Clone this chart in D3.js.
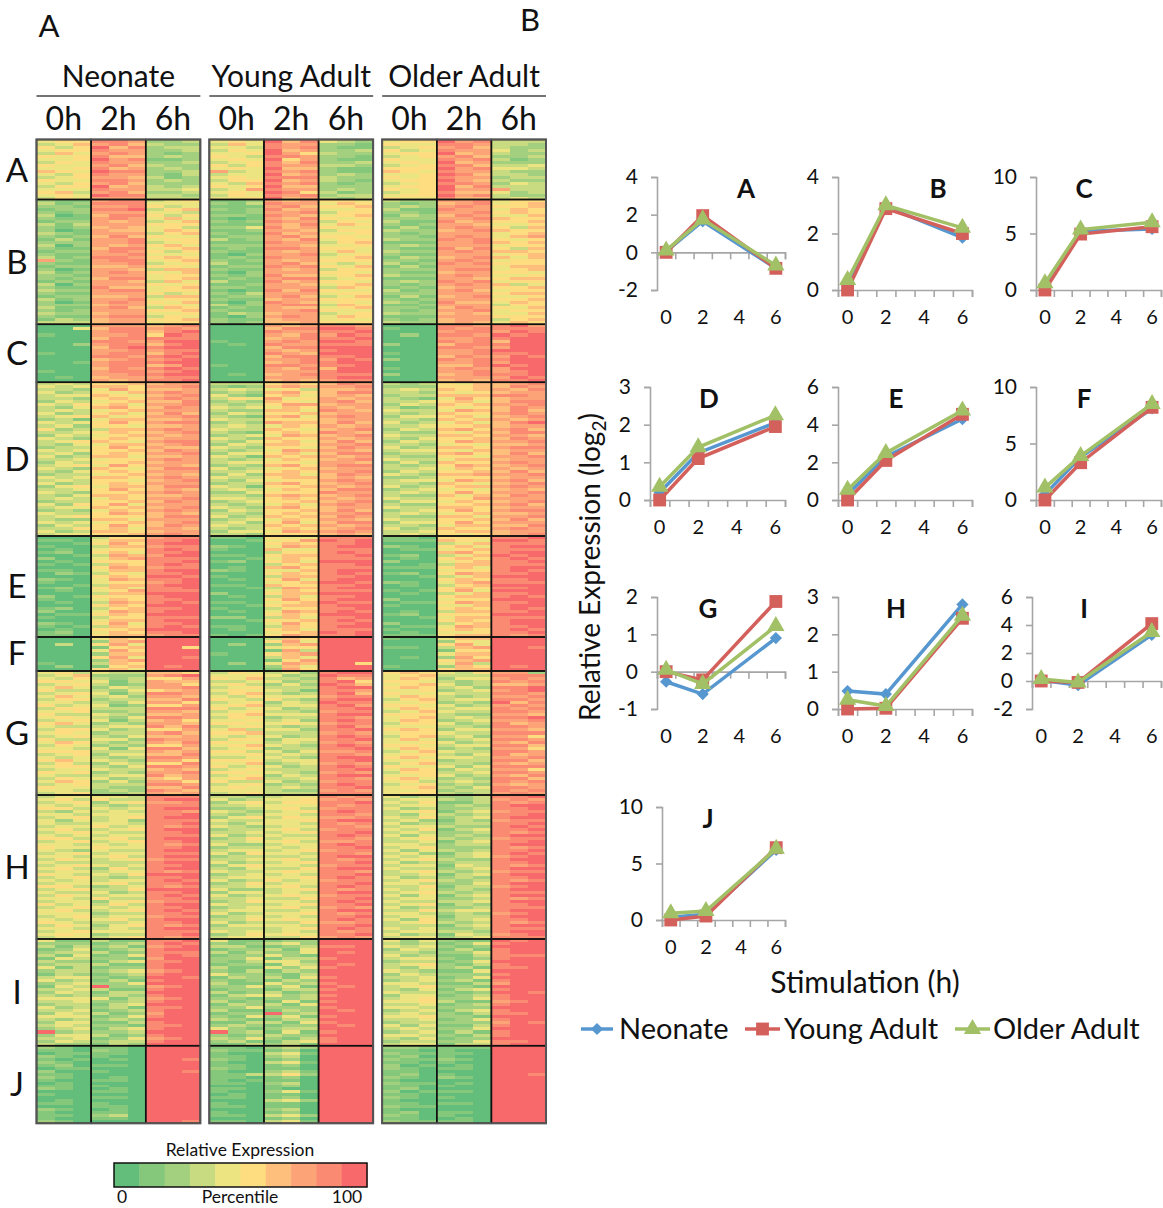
<!DOCTYPE html>
<html>
  <head>
    <meta charset="utf-8">
    <title>Relative expression by age group</title>
    <script src="https://cdn.jsdelivr.net/npm/d3@7"></script>
    <style>
      body { margin: 0; background: #fff; }
      text { font-family: Lato, "Open Sans", sans-serif; fill: #111; }
      .tick text { font-family: Lato, "Open Sans", sans-serif; fill: #111; }
    </style>
  </head>

  <body>
    <svg id="chart" width="1163" height="1208"></svg>

    <script>
      // heatmap labels
      const groups = ["Neonate", "Young Adult", "Older Adult"];
      const hours = ["0h", "2h", "6h"];
      const replicates = [0, 1, 2];
      const clusters = ["A", "B", "C", "D", "E", "F", "G", "H", "I", "J"];

      // heatmap rows, read by eye: one digit per cell (percentile bin 0-9),
      // three replicates x 0h/2h/6h x neonate/young/older
      const rowsA = [
        "455 887 223 454 968 432 455 978 333",
        "346 786 322 364 877 221 544 887 332",
        "535 968 233 443 878 211 345 786 322",
        "455 877 223 354 967 223 534 877 423",
        "364 787 212 445 975 322 455 967 322",
        "545 866 232 543 887 221 345 786 223",
        "445 978 112 454 957 211 544 878 312",
        "354 877 223 345 868 223 454 967 222",
        "544 786 322 535 877 332 345 886 334",
        "445 867 232 454 966 211 555 978 443",
        "654 988 223 734 878 211 654 877 322",
        "435 877 213 344 967 232 445 986 332",
        "345 776 312 454 888 322 545 877 233",
        "544 887 232 355 967 321 455 976 322",
        "435 786 222 436 878 212 345 887 243",
        "355 967 323 545 966 222 455 968 333",
        "444 877 334 347 877 232 545 977 733",
        "563 786 223 454 985 312 345 866 423",
        "454 988 332 354 878 233 455 978 322",
        "354 777 333 445 967 323 544 866 343"
      ];
      const rowsB = [
        "211 788 345 112 767 554 322 778 455",
        "312 888 444 213 877 465 212 678 456",
        "221 778 534 111 786 556 232 787 556",
        "122 889 356 212 867 445 311 877 465",
        "212 777 443 112 778 355 221 778 565",
        "301 688 535 221 876 456 132 687 446",
        "211 787 464 101 768 545 222 778 655",
        "122 767 346 212 877 354 311 867 556",
        "313 777 555 111 768 465 212 776 445",
        "212 676 453 224 867 544 131 787 536",
        "201 766 465 112 776 355 322 678 655",
        "321 777 356 211 867 445 212 777 456",
        "212 686 544 122 786 554 221 787 467",
        "131 778 455 312 768 455 322 878 545",
        "222 778 345 111 877 356 111 778 656",
        "302 767 564 222 776 445 232 777 455",
        "211 688 456 121 887 554 211 868 536",
        "122 787 535 211 767 464 322 787 665",
        "211 778 444 102 778 345 211 777 456",
        "312 887 565 121 877 456 132 678 646",
        "721 788 456 212 767 555 221 787 455",
        "211 778 345 311 786 434 312 878 555",
        "122 667 554 122 878 546 131 777 466",
        "201 776 366 211 767 355 222 788 456",
        "312 787 546 102 777 554 211 677 554",
        "221 777 455 212 866 456 322 787 445",
        "212 688 456 121 788 345 111 776 566",
        "121 776 364 311 867 554 232 878 455",
        "302 777 545 112 776 456 212 787 634",
        "211 866 456 221 777 365 121 677 556",
        "322 788 455 101 868 544 312 786 455",
        "211 777 534 213 777 455 222 777 566",
        "122 667 366 122 786 346 131 678 445",
        "312 778 455 211 677 555 212 777 556",
        "201 787 546 102 876 454 321 866 465",
        "222 677 454 312 788 365 112 777 355",
        "311 786 365 121 766 456 221 687 546",
        "212 777 556 211 778 544 212 778 455",
        "322 677 445 132 677 345 322 676 446",
        "211 788 354 102 787 465 111 777 555",
        "132 677 556 211 677 454 212 677 356",
        "333 677 455 212 667 545 322 676 465"
      ];
      const rowsC = [
        "000 777 678 000 767 887 000 887 897",
        "004 688 787 000 688 998 100 878 888",
        "000 788 689 000 877 889 000 788 798",
        "100 778 598 000 768 798 020 887 989",
        "000 688 888 000 678 889 000 778 899",
        "000 887 799 100 787 998 000 878 699",
        "002 788 689 010 877 888 200 688 899",
        "000 689 899 000 688 999 000 887 799",
        "000 778 788 000 767 899 000 778 999",
        "100 788 689 000 876 999 100 778 889",
        "000 887 898 000 688 889 000 687 798",
        "000 678 789 000 778 798 200 878 899",
        "001 788 899 000 678 899 000 778 799",
        "000 788 679 100 887 889 000 668 989",
        "000 687 898 000 768 699 100 787 799",
        "100 788 789 000 777 899 000 778 789",
        "000 778 899 010 678 888 200 678 889",
        "010 677 788 000 777 899 000 777 798",
        "000 767 889 000 676 788 000 676 889"
      ];
      const rowsD = [
        "343 556 677 333 565 687 323 546 678",
        "434 665 778 212 676 778 222 556 687",
        "332 475 667 343 453 667 343 656 768",
        "423 546 787 232 675 688 332 545 677",
        "344 654 678 421 564 676 233 666 887",
        "332 565 787 354 745 767 321 475 677",
        "243 456 668 232 654 786 334 564 688",
        "435 564 778 323 577 677 243 656 778",
        "324 675 687 434 465 767 312 545 687",
        "343 456 777 322 664 876 433 476 686",
        "423 564 686 243 556 677 323 655 787",
        "345 645 778 321 674 787 244 564 678",
        "231 466 667 433 555 677 332 656 767",
        "434 575 788 232 766 686 423 464 689",
        "342 554 667 343 465 767 334 556 677",
        "523 366 787 433 654 678 243 675 786",
        "334 565 678 321 565 876 322 546 688",
        "243 456 767 234 476 678 433 665 776",
        "432 565 677 432 655 767 324 556 687",
        "345 654 788 324 564 686 243 576 778",
        "324 466 678 243 665 778 332 454 667",
        "233 575 766 432 554 687 423 665 788",
        "434 556 687 323 476 776 344 546 677",
        "342 565 778 244 564 688 233 675 686",
        "423 664 667 431 656 767 322 554 778",
        "334 455 787 323 465 678 433 466 677",
        "243 556 677 344 554 776 242 655 787",
        "345 475 776 232 675 788 323 576 678",
        "432 654 688 423 456 677 334 465 767",
        "324 565 777 334 565 778 243 556 686",
        "233 456 676 242 664 687 432 667 778",
        "434 665 787 433 566 676 223 555 677",
        "343 554 678 324 455 787 344 476 786",
        "423 565 777 233 675 678 332 654 678",
        "245 466 688 431 556 767 423 566 787",
        "334 575 676 343 465 688 234 454 676",
        "432 556 787 224 555 877 343 575 778",
        "324 665 667 332 676 678 322 646 687",
        "343 465 778 443 565 767 433 557 777",
        "233 556 687 234 556 678 244 465 678",
        "425 574 777 323 464 787 322 556 786",
        "344 656 678 432 675 677 433 665 677",
        "232 465 787 243 556 686 234 575 788",
        "433 576 676 332 565 778 343 456 667",
        "345 555 688 423 656 687 322 664 778",
        "322 664 777 234 465 776 433 556 686",
        "434 456 678 342 574 688 244 575 777",
        "243 575 687 433 656 767 332 466 668",
        "335 564 776 323 565 678 423 655 787",
        "423 665 677 244 476 787 334 566 677",
        "344 556 787 332 555 676 343 545 678"
      ];
      const rowsE = [
        "000 355 788 110 544 888 110 555 889",
        "110 466 889 001 457 989 111 654 998",
        "001 575 899 000 565 889 000 346 888",
        "100 366 788 210 476 899 210 564 899",
        "010 455 898 100 644 888 011 456 888",
        "120 564 889 000 355 898 000 675 899",
        "001 376 799 110 566 889 120 346 989",
        "200 467 888 001 465 888 010 565 898",
        "010 555 889 120 564 999 200 456 889",
        "101 365 898 000 356 889 001 366 888",
        "000 576 788 010 675 888 111 564 899",
        "110 466 899 210 446 899 000 455 898",
        "021 354 889 000 565 898 120 576 889",
        "000 565 998 100 366 889 001 346 999",
        "210 476 889 010 574 899 000 565 889",
        "100 455 789 000 456 998 210 467 888",
        "001 366 899 110 655 889 010 356 999",
        "120 564 889 001 376 899 000 565 889",
        "010 457 888 000 465 888 101 574 999",
        "000 366 999 200 566 999 010 346 889",
        "201 555 899 010 364 889 000 566 898",
        "100 465 889 000 575 899 200 455 999",
        "010 376 898 110 456 988 011 576 889",
        "000 565 999 001 566 899 100 446 899",
        "120 356 889 100 355 889 000 565 898",
        "200 476 899 010 476 898 010 366 889",
        "011 565 999 000 565 999 120 555 999",
        "100 355 888 220 364 889 001 466 888",
        "000 466 899 001 556 898 000 565 899",
        "210 574 889 000 475 889 200 356 899",
        "101 365 898 110 365 899 011 476 889",
        "010 556 999 010 564 888 100 565 898",
        "120 465 889 000 456 989 010 445 889",
        "110 566 788 101 576 889 111 566 878"
      ];
      const rowsF = [
        "000 465 999 000 365 999 100 466 999",
        "000 267 999 000 574 999 000 254 999",
        "030 574 999 020 267 999 000 574 999",
        "000 156 995 000 455 999 110 367 998",
        "000 475 999 000 173 999 000 155 999",
        "000 266 999 100 567 999 000 466 999",
        "000 574 998 000 364 999 010 275 999",
        "000 267 999 000 157 999 000 567 999",
        "100 365 999 020 476 995 000 473 999",
        "020 156 989 000 264 999 100 265 989",
        "000 564 999 000 175 999 000 566 999"
      ];
      const rowsG = [
        "453 433 665 354 342 899 565 435 772",
        "346 222 789 445 423 988 456 333 888",
        "435 323 557 546 332 867 465 244 787",
        "554 413 766 334 423 895 554 323 878",
        "345 312 775 453 242 986 456 423 667",
        "464 243 778 345 333 899 565 342 889",
        "533 324 567 454 431 887 445 234 789",
        "345 413 887 356 323 896 544 433 887",
        "464 342 776 435 444 788 465 323 778",
        "355 233 668 543 532 899 356 344 887",
        "443 324 775 345 243 988 445 232 968",
        "534 412 557 456 344 897 554 423 787",
        "355 333 888 534 423 889 465 344 878",
        "445 223 776 345 332 788 346 433 887",
        "533 432 667 456 444 899 555 322 776",
        "454 324 887 354 233 887 456 343 889",
        "345 413 675 445 342 898 465 234 778",
        "564 232 776 554 454 788 355 423 867",
        "433 344 868 345 323 897 444 332 887",
        "355 423 557 463 442 889 565 244 776",
        "454 233 786 556 333 787 455 433 888",
        "345 324 667 434 423 898 356 342 775",
        "533 442 877 355 244 889 464 234 887",
        "465 323 768 544 343 787 445 423 768",
        "354 232 557 456 432 898 554 344 886",
        "443 414 886 345 233 889 465 232 775",
        "555 333 767 553 424 778 346 433 887",
        "345 244 668 445 343 887 455 324 867",
        "434 323 887 334 432 899 564 443 778",
        "564 432 775 555 344 889 445 233 886",
        "353 243 558 446 234 787 356 332 767",
        "455 324 887 534 423 898 544 424 888",
        "344 433 676 345 333 889 465 243 775",
        "545 232 778 554 432 787 355 334 887",
        "433 344 867 345 243 899 445 423 768",
        "354 423 657 456 334 887 564 232 886",
        "465 242 775 533 423 788 453 343 878",
        "345 333 887 345 232 898 345 232 767",
        "544 322 668 454 343 889 456 324 887",
        "443 232 876 444 322 787 445 233 878",
        "345 223 767 345 333 888 455 323 787"
      ];
      const rowsH = [
        "344 443 888 332 344 878 423 223 889",
        "453 533 899 423 445 787 344 323 787",
        "345 245 778 245 355 889 435 113 878",
        "434 323 888 334 444 878 344 232 899",
        "553 434 899 223 453 788 423 223 889",
        "324 343 887 432 345 898 345 134 788",
        "443 444 889 323 443 887 324 323 889",
        "345 345 899 245 354 778 435 234 899",
        "424 342 888 433 445 899 342 132 788",
        "433 443 889 324 443 878 423 233 889",
        "344 534 878 432 344 887 344 322 898",
        "453 345 899 233 453 788 435 134 889",
        "345 433 889 334 345 889 343 223 878",
        "434 344 888 423 433 898 424 232 899",
        "553 453 899 235 344 887 345 323 788",
        "345 345 889 334 453 778 334 134 889",
        "443 434 878 422 344 898 443 233 899",
        "544 544 889 233 434 889 345 222 878",
        "432 433 899 344 345 788 424 323 889",
        "345 344 888 425 443 887 342 134 898",
        "443 453 899 233 334 899 434 234 789",
        "354 345 788 334 453 878 345 322 899",
        "433 333 899 423 345 889 423 233 889",
        "345 434 889 245 443 788 344 143 878",
        "453 253 899 324 335 899 433 234 899",
        "344 344 878 433 454 887 345 323 788",
        "543 435 999 234 343 889 334 134 899",
        "345 323 889 344 445 898 423 232 889",
        "434 344 898 423 534 788 345 323 878",
        "344 453 889 235 344 889 443 224 899",
        "553 234 878 334 453 898 335 133 789",
        "345 335 999 422 345 878 434 232 899",
        "433 423 889 244 343 899 345 323 888",
        "354 344 898 423 454 788 424 134 899",
        "443 533 889 334 335 889 344 223 878",
        "344 245 788 235 443 898 433 334 899",
        "534 353 899 433 345 889 345 132 889",
        "345 434 889 234 453 787 423 223 888",
        "453 345 898 344 334 899 335 344 899",
        "444 233 889 423 445 878 443 232 789",
        "345 344 788 234 343 889 344 133 899",
        "434 453 899 335 454 898 425 234 889",
        "543 334 889 423 335 778 345 323 878",
        "354 245 878 244 443 889 333 134 899",
        "443 343 899 333 345 898 434 223 888",
        "345 444 888 434 343 878 344 332 899",
        "454 233 889 235 454 889 423 143 789",
        "344 345 878 344 335 787 344 234 888"
      ];
      const rowsI = [
        "411 311 889 411 122 999 424 211 989",
        "222 123 898 212 342 999 323 124 899",
        "313 231 789 331 123 889 434 212 999",
        "124 123 899 122 314 999 243 131 899",
        "233 312 888 313 224 989 332 224 899",
        "314 124 898 122 421 999 423 113 888",
        "143 221 799 224 133 899 344 212 899",
        "322 134 889 213 442 999 233 124 999",
        "233 311 899 122 143 989 345 213 899",
        "413 122 899 311 424 899 324 231 889",
        "233 234 789 213 132 999 432 114 999",
        "132 123 899 422 213 999 243 222 899",
        "344 212 998 132 314 899 334 124 999",
        "423 131 899 212 132 999 234 231 899",
        "234 224 999 311 423 899 443 113 799",
        "143 922 789 224 241 989 345 221 999",
        "334 311 899 122 133 899 324 134 899",
        "243 133 999 312 312 999 433 212 998",
        "323 232 899 134 423 899 244 123 899",
        "444 413 789 221 223 999 345 224 899",
        "334 223 899 312 141 899 445 311 789",
        "233 134 999 132 314 999 334 123 899",
        "423 231 889 224 222 899 443 222 999",
        "334 123 899 311 132 989 234 134 899",
        "243 312 799 122 923 999 343 213 889",
        "444 124 899 214 241 899 445 221 999",
        "323 232 999 321 133 999 334 124 899",
        "244 113 899 113 314 899 233 222 798",
        "343 221 889 232 122 989 424 113 899",
        "234 134 899 421 233 999 343 224 999",
        "923 223 999 923 141 899 234 131 899",
        "244 312 899 212 322 999 443 213 899",
        "334 124 789 324 213 899 324 122 999",
        "243 233 899 231 134 899 233 224 889",
        "322 132 999 113 231 999 344 133 899"
      ];
      const rowsJ = [
        "210 110 999 110 232 999 221 111 999",
        "110 210 999 211 120 999 110 100 999",
        "011 110 999 100 341 999 211 110 999",
        "210 100 999 110 230 999 120 100 999",
        "101 010 998 210 120 999 211 210 999",
        "210 000 999 100 341 999 110 100 999",
        "120 110 999 110 120 999 201 010 999",
        "011 000 999 210 110 999 210 110 999",
        "200 100 998 100 231 999 110 000 999",
        "110 000 999 113 352 999 120 100 998",
        "210 010 999 110 120 999 210 210 999",
        "100 110 999 101 110 999 100 000 999",
        "010 000 999 110 230 999 211 010 999",
        "110 100 999 000 120 999 110 100 999",
        "210 010 999 110 100 999 120 000 999",
        "000 110 999 100 241 999 201 110 999",
        "100 000 999 010 110 999 110 000 999",
        "000 110 999 110 120 999 210 100 999",
        "010 000 999 000 342 999 100 000 999",
        "110 100 999 100 110 999 110 110 999",
        "000 110 999 110 110 999 211 000 999",
        "210 010 999 000 230 999 100 000 999",
        "100 110 999 100 120 999 120 110 999",
        "110 230 999 110 342 999 210 100 999",
        "100 110 999 000 120 999 110 010 999",
        "210 000 998 110 341 999 211 110 999"
      ];
      const heatRows = [rowsA, rowsB, rowsC, rowsD, rowsE, rowsF, rowsG, rowsH, rowsI, rowsJ];

      // colour key
      const binColors = ["#63be7b", "#85c87c", "#a3d07e", "#c9db80", "#ece481", "#fedd80", "#fdbf7b", "#fca377", "#fa8a72", "#f8696b"];

      // line chart values: neonate, young adult, older adult at 0, 2, 6 h
      const series = ["Neonate", "Young Adult", "Older Adult"];
      const timePoints = [0, 2, 6];
      const linesA = [[0.05, 1.65, -0.85], [0, 1.95, -0.85], [0.1, 1.75, -0.7]];
      const linesB = [[0.2, 2.95, 1.85], [0, 2.88, 2.0], [0.35, 3.0, 2.2]];
      const linesC = [[0.3, 5.2, 5.4], [0, 4.95, 5.6], [0.6, 5.35, 6.0]];
      const linesD = [[0.2, 1.25, 2.05], [0, 1.1, 1.95], [0.35, 1.4, 2.25]];
      const linesE = [[0.3, 2.3, 4.3], [0, 2.1, 4.55], [0.55, 2.5, 4.75]];
      const linesF = [[0.5, 3.8, 8.1], [0, 3.3, 8.2], [1.1, 3.9, 8.5]];
      const linesG = [[-0.27, -0.6, 0.9], [0, -0.22, 1.88], [0.05, -0.33, 1.22]];
      const linesH = [[0.48, 0.4, 2.8], [0, 0.02, 2.43], [0.25, 0.08, 2.5]];
      const linesI = [[0.05, -0.3, 3.3], [0, -0.1, 4.1], [0.15, -0.1, 3.5]];
      const linesJ = [[0.25, 0.5, 6.2], [0, 0.35, 6.4], [0.6, 0.8, 6.3]];
      const yDomains = [[-2, 4], [0, 4], [0, 10], [0, 3], [0, 6], [0, 10], [-1, 2], [0, 3], [-2, 6], [0, 10]];
      const yTicks = [[-2, 0, 2, 4], [0, 2, 4], [0, 5, 10], [0, 1, 2, 3], [0, 2, 4, 6], [0, 5, 10], [-1, 0, 1, 2], [0, 1, 2, 3], [-2, 0, 2, 4, 6], [0, 5, 10]];
      const allLines = [linesA, linesB, linesC, linesD, linesE, linesF, linesG, linesH, linesI, linesJ];

      const lineColors = ["#5797d0", "#d4605c", "#a2c167"];
      const symbols = [d3.symbolSquare, d3.symbolSquare, d3.symbolTriangle];
      const symbolSizes = [75, 165, 130];
      const symbolTurn = [45, 0, 0];

      // layout
      const clusterEdges = [139.5, 199.5, 324.3, 382.3, 536, 637, 671, 795, 939, 1045.7, 1123.3];
      const clusterLabelY = [171, 263, 354, 460, 587, 654, 734, 868, 993, 1085];
      const panelBoxes = [
        { x0: 657, x1: 785, top: 177, bottom: 290, labelX: 746 },
        { x0: 838, x1: 972, top: 177, bottom: 290, labelX: 938 },
        { x0: 1036, x1: 1161, top: 177, bottom: 290, labelX: 1084 },
        { x0: 650, x1: 785, top: 387, bottom: 500, labelX: 709 },
        { x0: 838, x1: 972, top: 387, bottom: 500, labelX: 896 },
        { x0: 1036, x1: 1161, top: 387, bottom: 500, labelX: 1084 },
        { x0: 657, x1: 785, top: 597, bottom: 709, labelX: 708 },
        { x0: 838, x1: 972, top: 597, bottom: 709, labelX: 896 },
        { x0: 1032, x1: 1161, top: 597, bottom: 709, labelX: 1084 },
        { x0: 662, x1: 785, top: 807, bottom: 920, labelX: 708 }
      ];

      const chart = d3.select("#chart");

      drawHeatmap();
      drawColorKey();
      clusters.forEach(drawPanel);
      drawLegend();

      function addText(parent, str, x, y, size, anchor) {
        return parent.append("text")
          .attr("x", x)
          .attr("y", y - size * 0.06)
          .attr("font-size", size)
          .attr("text-anchor", anchor || "middle")
          .attr("dominant-baseline", "central")
          .text(str);
      }

      function drawHeatmap() {
        const g = chart.append("g");
        const xGroup = d3.scaleBand().domain(groups).range([36.5, 546]).paddingInner(0.052);
        const xHour = d3.scaleBand().domain(hours).range([0, xGroup.bandwidth()]);
        const xRep = d3.scaleBand().domain(replicates).range([0, xHour.bandwidth()]);

        addText(chart, "A", 49, 27, 31);
        addText(chart, "B", 530, 21, 31);

        heatRows.forEach((rows, c) => {
          const y = d3.scaleBand()
            .domain(d3.range(rows.length))
            .range([clusterEdges[c], clusterEdges[c + 1]]);
          const cells = [];
          rows.forEach((row, r) => {
            row.replace(/ /g, "").split("").forEach((bin, i) => {
              cells.push({ r: r, bin: +bin, i: i });
            });
          });
          g.append("g")
            .attr("shape-rendering", "crispEdges")
            .selectAll("rect")
            .data(cells)
            .join("rect")
              .attr("x", d => xGroup(groups[Math.floor(d.i / 9)]) + xHour(hours[Math.floor(d.i / 3) % 3]) + xRep(d.i % 3))
              .attr("y", d => y(d.r))
              .attr("width", xRep.bandwidth() + 0.5)
              .attr("height", y.bandwidth() + 0.5)
              .attr("fill", d => binColors[d.bin]);
          addText(chart, clusters[c], 17, clusterLabelY[c], 33);
        });

        // block outlines
        groups.forEach(group => {
          const x0 = xGroup(group);
          const w = xGroup.bandwidth();
          hours.forEach(h => {
            clusters.forEach((cl, c) => {
              g.append("rect")
                .attr("x", x0 + xHour(h))
                .attr("y", clusterEdges[c])
                .attr("width", xHour.bandwidth())
                .attr("height", clusterEdges[c + 1] - clusterEdges[c])
                .attr("fill", "none")
                .attr("stroke", "#111")
                .attr("stroke-width", 1.5);
            });
            addText(chart, h, x0 + xHour(h) + xHour.bandwidth() / 2, 119, 32);
          });
          g.append("rect")
            .attr("x", x0)
            .attr("y", clusterEdges[0])
            .attr("width", w)
            .attr("height", clusterEdges[10] - clusterEdges[0])
            .attr("fill", "none")
            .attr("stroke", "#555")
            .attr("stroke-width", 2);
          chart.append("line")
            .attr("x1", x0)
            .attr("x2", x0 + w)
            .attr("y1", 96)
            .attr("y2", 96)
            .attr("stroke", "#444")
            .attr("stroke-width", 1.5);
          addText(chart, group, x0 + w / 2, 77, 30);
        });
      }

      function drawColorKey() {
        const g = chart.append("g");
        const x = d3.scaleBand().domain(d3.range(binColors.length)).range([114, 367]);
        g.selectAll("rect")
          .data(binColors)
          .join("rect")
            .attr("x", (d, i) => x(i))
            .attr("y", 1163)
            .attr("width", x.bandwidth() + 0.5)
            .attr("height", 24)
            .attr("fill", d => d);
        g.append("rect")
          .attr("x", 114)
          .attr("y", 1163)
          .attr("width", 253)
          .attr("height", 24)
          .attr("fill", "none")
          .attr("stroke", "#111")
          .attr("stroke-width", 1.5);
        addText(g, "Relative Expression", 240, 1151, 17.5);
        addText(g, "0", 122, 1198, 17.5);
        addText(g, "Percentile", 240, 1198, 17.5);
        addText(g, "100", 347, 1198, 17.5);
      }

      function drawPanel(letter, p) {
        const box = panelBoxes[p];
        const g = chart.append("g");
        const y = d3.scaleLinear().domain(yDomains[p]).range([box.bottom, box.top]);
        const x = d3.scaleBand().domain(d3.range(7)).range([box.x0, box.x1]);
        const xEdges = d3.scaleLinear().domain([0, 7]).range([box.x0, box.x1]);

        // plain hyphen on the negative ticks, as in the original
        const yAxis = g.append("g")
          .attr("transform", "translate(" + box.x0 + ", 0)")
          .call(d3.axisLeft(y).tickValues(yTicks[p]).tickSize(6).tickPadding(13).tickFormat(d => String(d)));
        yAxis.selectAll("text").attr("font-size", 21);

        g.append("g")
          .attr("transform", "translate(0, " + y(0) + ")")
          .call(d3.axisBottom(xEdges).tickValues(d3.range(8)).tickSize(7).tickSizeOuter(7).tickFormat(""));

        const xLabels = g.append("g")
          .attr("transform", "translate(0, " + (box.bottom + 20) + ")")
          .call(d3.axisBottom(x).tickValues([0, 2, 4, 6]).tickSize(0).tickPadding(0));
        xLabels.select(".domain").remove();
        xLabels.selectAll("text").attr("font-size", 20);

        g.selectAll(".domain, .tick line")
          .attr("stroke", "#a6a6a6")
          .attr("stroke-width", 1.6);

        const line = d3.line()
          .x((d, i) => x(timePoints[i]) + x.bandwidth() / 2)
          .y(d => y(d));

        allLines[p].forEach((values, s) => {
          g.append("path")
            .attr("d", line(values))
            .attr("fill", "none")
            .attr("stroke", lineColors[s])
            .attr("stroke-width", 3.5);
          g.selectAll(".m" + s)
            .data(values)
            .join("path")
              .attr("class", "m" + s)
              .attr("d", d3.symbol().type(symbols[s]).size(symbolSizes[s]))
              .attr("fill", lineColors[s])
              .attr("transform", (d, i) => "translate(" + (x(timePoints[i]) + x.bandwidth() / 2) + "," + y(d) + ") rotate(" + symbolTurn[s] + ")");
        });

        addText(g, letter, box.labelX, box.top + 13, 26).attr("font-weight", 700);
      }

      function drawLegend() {
        const ylabel = chart.append("text")
          .attr("transform", "translate(600, 567) rotate(-90)")
          .attr("text-anchor", "middle")
          .attr("font-size", 28);
        ylabel.append("tspan").text("Relative Expression (log");
        ylabel.append("tspan").attr("font-size", 19).attr("dy", 6).text("2");
        ylabel.append("tspan").attr("dy", -6).text(")");

        addText(chart, "Stimulation (h)", 865, 983, 30);

        const keyX = [[581, 613, 619], [745, 780, 784], [955, 990, 993]];
        series.forEach((name, s) => {
          const [x1, x2, tx] = keyX[s];
          chart.append("line")
            .attr("x1", x1)
            .attr("x2", x2)
            .attr("y1", 1029)
            .attr("y2", 1029)
            .attr("stroke", lineColors[s])
            .attr("stroke-width", 3.5);
          chart.append("path")
            .attr("d", d3.symbol().type(symbols[s]).size(symbolSizes[s]))
            .attr("fill", lineColors[s])
            .attr("transform", "translate(" + (x1 + x2) / 2 + ",1029) rotate(" + symbolTurn[s] + ")");
          addText(chart, name, tx, 1029, 29, "start");
        });
      }
    </script>
  </body>
</html>
